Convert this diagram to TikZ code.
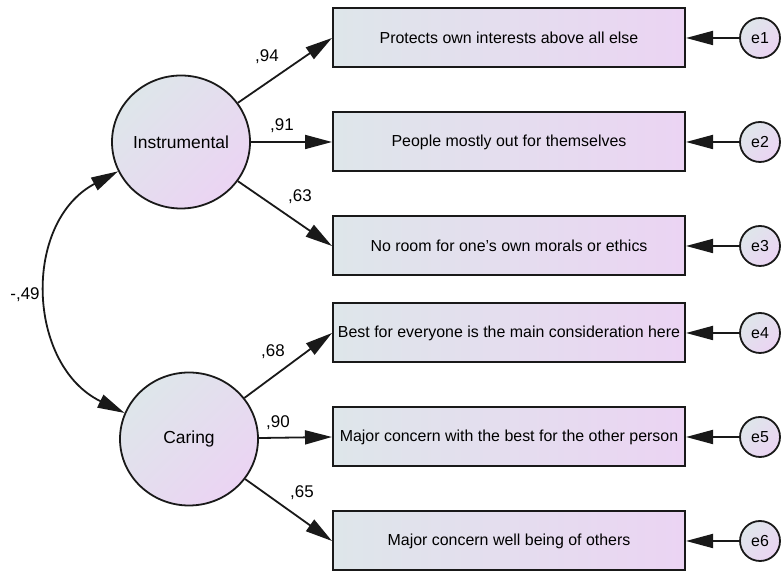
\documentclass[tikz,border=0pt]{standalone}
\usepackage{fontspec}
\setmainfont{Liberation Sans}
\usetikzlibrary{arrows.meta,shapes.geometric}

\definecolor{shadeGrey}{RGB}{222,230,234}
\definecolor{shadeLilac}{RGB}{235,212,243}
\definecolor{lineDark}{RGB}{25,25,25}

\tikzset{
  indicator/.style={draw=lineDark, line width=2bp, left color=shadeGrey,
    right color=shadeLilac, minimum width=352bp, minimum height=59bp,
    inner sep=0pt, font=\fontsize{16}{18}\selectfont},
  latent/.style={ellipse, draw=lineDark, line width=1.8bp, left color=shadeGrey,
    right color=shadeLilac, shading angle=45, minimum width=138bp,
    minimum height=133bp, inner sep=0pt, font=\fontsize{17.5}{19}\selectfont},
  errterm/.style={circle, draw=lineDark, line width=1.8bp, left color=shadeGrey,
    right color=shadeLilac, shading angle=45, minimum size=40bp,
    inner sep=0pt, font=\fontsize{16}{18}\selectfont},
  loading/.style={-{Triangle[length=27bp,width=14bp]}, line width=1.8bp,
    draw=lineDark},
  weight/.style={font=\fontsize{17}{19}\selectfont, inner sep=0pt}
}

\begin{document}
\begin{tikzpicture}[x=1bp, y=1bp]
  \useasboundingbox (0,0) rectangle (783,572);

  % latent factors
  \node[latent] (inst) at (181,430) {Instrumental};
  \node[latent] (car) at (189,133) {Caring};

  % observed items
  \node[indicator] (b1) at (509,534) {Protects own interests above all else};
  \node[indicator] (b2) at (509,430) {People mostly out for themselves};
  \node[indicator] (b3) at (509,326) {No room for one's own morals or ethics};
  \node[indicator] (b4) at (509,239) {Best for everyone is the main consideration here};
  \node[indicator] (b5) at (509,135) {Major concern with the best for the other person};
  \node[indicator] (b6) at (509,31) {Major concern well being of others};

  % error terms
  \node[errterm] (e1) at (760,534) {e1};
  \node[errterm] (e2) at (760,430) {e2};
  \node[errterm] (e3) at (760,326) {e3};
  \node[errterm] (e4) at (760,239) {e4};
  \node[errterm] (e5) at (760,135) {e5};
  \node[errterm] (e6) at (760,31) {e6};

  % loadings
  \draw[loading] (inst) -- (b1.west);
  \draw[loading] (inst) -- (b2.west);
  \draw[loading] (inst) -- (b3.west);
  \draw[loading] (car) -- (b4.west);
  \draw[loading] (car) -- (b5.west);
  \draw[loading] (car) -- (b6.west);

  \draw[loading] (e1) -- (b1.east);
  \draw[loading] (e2) -- (b2.east);
  \draw[loading] (e3) -- (b3.east);
  \draw[loading] (e4) -- (b4.east);
  \draw[loading] (e5) -- (b5.east);
  \draw[loading] (e6) -- (b6.east);

  % covariance
  \draw[loading, {Triangle[length=27bp,width=14bp]}-{Triangle[length=27bp,width=14bp]}]
    (inst.205) to[out=208, in=154, looseness=1.15] (car.158);

  \node[weight] (w1) at (267,515) {,94};
  \node[weight] (w2) at (282,446) {,91};
  \node[weight] (w3) at (300,375) {,63};
  \node[weight] (w4) at (273,220) {,68};
  \node[weight] (w5) at (278,149) {,90};
  \node[weight] (w6) at (302,79) {,65};
  \node[weight] (wc) at (25,277) {-,49};
\end{tikzpicture}
\end{document}
